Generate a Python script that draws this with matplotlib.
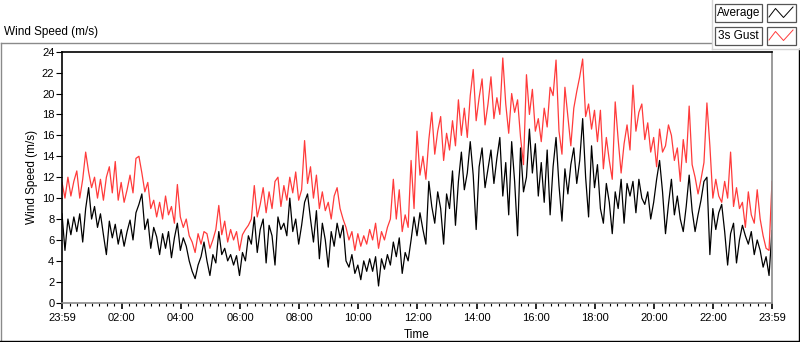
import matplotlib
matplotlib.use("Agg")
import matplotlib.pyplot as plt
import numpy as np
from matplotlib.lines import Line2D
from matplotlib.patches import Rectangle

plt.rcParams['font.family'] = ['Liberation Sans', 'DejaVu Sans']

# minutes after 23:59 of the previous day, one sample every 6 minutes
minutes = np.arange(0, 1441, 6)

# 1 minute average wind speed (m/s)
average = [
    8.5, 5.0, 8.0, 6.5, 8.2, 6.8, 8.5, 5.8, 9.0, 11.0,
    8.0, 9.2, 7.2, 8.5, 6.5, 4.6, 7.8, 6.2, 7.5, 5.6,
    7.0, 5.4, 6.8, 7.9, 6.0, 8.6, 9.4, 10.4, 7.0, 8.0,
    5.2, 7.2, 6.3, 4.6, 6.6, 5.2, 6.8, 4.3, 6.2, 7.6,
    5.0, 6.2, 5.4, 4.0, 3.0, 2.3, 3.6, 4.4, 5.8,
    4.0, 2.6, 4.6, 3.8, 6.8, 4.6, 5.2, 4.0, 4.6, 3.6,
    4.5, 2.6, 4.8, 4.0, 6.4, 5.6, 8.2, 4.8, 7.0, 8.0,
    3.8, 7.4, 6.4, 3.6, 8.2, 7.0, 7.6, 6.4, 10.0, 6.8,
    8.0, 5.6, 7.4, 9.6, 10.4, 8.0, 5.8, 8.8, 4.2, 7.6,
    6.0, 3.4, 6.8, 5.4, 7.6, 6.2, 7.4, 4.0,
    3.4, 4.6, 2.8, 3.6, 2.2, 4.0, 3.0, 4.2, 3.0, 4.4,
    1.6, 4.2, 3.2, 4.6, 3.6, 5.8, 4.4, 6.2, 2.8, 4.8,
    4.0, 6.0, 8.2, 6.4, 8.6, 7.0, 5.6, 11.6, 9.2, 7.6,
    10.6, 9.0, 5.6, 10.4, 9.0, 12.6, 7.4, 11.6, 14.4, 10.8,
    12.4, 15.4, 12.2, 7.0, 13.0, 14.8, 11.0, 12.8,
    14.6, 11.4, 13.8, 15.8, 10.2, 13.4, 8.4, 15.4, 11.6, 6.4,
    14.8, 10.6, 12.0, 16.6, 12.4, 15.2, 10.2, 13.4, 9.6, 14.6,
    8.4, 13.0, 15.8, 11.2, 7.8, 12.8, 10.4, 13.2, 14.8, 11.4,
    13.6, 17.6, 12.0, 8.2, 15.0, 11.0, 13.2, 9.0, 7.6, 11.4,
    9.6, 6.6, 10.6, 9.0, 11.8, 7.6, 11.4, 10.2,
    11.6, 8.6, 11.8, 10.0, 9.4, 10.6, 8.0, 9.6, 11.8, 13.6,
    10.6, 6.6, 9.4, 11.8, 8.4, 10.2, 8.0, 6.8, 9.2, 12.2,
    8.8, 6.8, 8.4, 9.8, 11.6, 12.0, 4.6, 9.0, 7.0, 8.6,
    9.4, 6.8, 3.6, 6.6, 7.6, 3.8, 6.0, 7.4, 6.4, 5.6,
    6.8, 4.6, 6.0, 5.0, 3.4, 4.4, 2.6, 6.9,
]

# 3 second gust (m/s)
gust = [
    11.5, 10.0, 12.0, 10.2, 11.6, 12.6, 10.0, 11.8, 14.4, 12.5,
    11.0, 12.0, 10.0, 11.8, 9.8, 12.0, 13.0, 10.5, 13.5, 9.8,
    11.5, 9.6, 10.8, 12.2, 10.5, 13.8, 14.0, 12.4, 10.6, 11.5,
    9.0, 9.8, 8.2, 9.6, 8.0, 10.2, 8.4, 9.2, 7.6, 11.3,
    8.2, 7.2, 8.0, 6.4, 5.8, 4.8, 6.6, 5.6, 6.8,
    6.6, 5.2, 6.0, 7.0, 9.3, 6.5, 7.8, 5.8, 7.0, 6.0,
    6.8, 5.0, 6.5, 7.0, 7.4, 8.0, 11.2, 8.2, 9.4, 11.0,
    8.6, 10.6, 9.0, 11.6, 12.0, 9.2, 11.2, 9.8, 12.0, 10.5,
    12.5, 9.8, 10.8, 15.5, 11.4, 13.0, 10.0, 12.2, 9.0, 10.6,
    8.8, 9.6, 8.0, 10.2, 11.0, 9.0, 8.0, 7.2,
    6.0, 6.8, 5.0, 6.6, 5.4, 6.4, 5.6, 7.0, 6.0, 7.6,
    5.2, 6.8, 6.0, 7.2, 8.0, 11.8, 8.0, 10.8, 6.8, 8.4,
    7.2, 13.6, 9.0, 16.4, 12.2, 14.0, 11.8, 15.6, 18.2, 14.2,
    16.4, 17.8, 13.6, 16.2, 14.6, 17.4, 15.0, 19.4, 16.0, 18.6,
    15.8, 19.8, 22.3, 17.4, 19.6, 21.4, 17.0, 19.0,
    21.6, 17.6, 19.6, 18.0, 23.4, 19.0, 16.2, 20.0, 18.2, 19.4,
    15.8, 13.2, 21.8, 18.0, 20.4, 16.4, 17.6, 15.4, 18.6, 16.8,
    20.6, 19.8, 23.2, 16.4, 14.2, 20.6, 17.8, 15.0, 18.6, 20.2,
    21.6, 23.3, 17.8, 19.0, 16.6, 18.4, 15.4, 18.4, 12.8, 15.8,
    13.6, 11.8, 19.2, 15.6, 12.4, 15.2, 17.0, 14.6,
    20.8, 16.4, 18.2, 19.0, 15.6, 17.2, 14.4, 15.8, 13.0, 16.6,
    14.4, 15.0, 17.0, 16.0, 13.6, 14.8, 11.6, 15.6, 13.4, 18.8,
    13.2, 12.0, 10.4, 11.8, 13.4, 19.1, 15.0, 10.0, 11.8, 10.2,
    9.6, 11.6, 10.0, 14.4, 9.2, 11.0, 9.0, 9.6, 7.2, 10.6,
    8.4, 7.6, 10.8, 8.0, 6.4, 5.2, 5.0, 11.6,
]

tick_pos = [0] + [121 + 120 * i for i in range(11)] + [1440]
tick_labels = ["23:59", "02:00", "04:00", "06:00", "08:00", "10:00", "12:00",
               "14:00", "16:00", "18:00", "20:00", "22:00", "23:59"]
minor_pos = [m for m in range(16, 1440, 15) if m not in tick_pos]

W, H = 800, 342
fig = plt.figure(figsize=(W / 100, H / 100), dpi=100)


def fx(x):
    return x / W


def fy(y):
    return 1 - y / H


ax = fig.add_axes([fx(62), fy(302.7), fx(772) - fx(62), fy(51.7) - fy(302.7)])

ax.plot(minutes, gust, color="#ff3b3b", lw=0.9)
ax.plot(minutes, average, color="black", lw=0.9)

ax.set_xlim(0, 1440)
ax.set_ylim(0, 24)
ax.set_yticks(range(0, 25, 2))
ax.set_xticks(tick_pos)
ax.set_xticklabels(tick_labels)
ax.set_xticks(minor_pos, minor=True)
ax.tick_params(axis="both", labelsize=8, colors="black", width=0.8)
ax.tick_params(axis="y", length=4, pad=1.5)
ax.tick_params(axis="x", which="major", length=4, width=1.2, pad=3.5)
ax.tick_params(axis="x", which="minor", length=2.5, width=0.8)
ax.set_xlabel("Time", fontsize=8.5, labelpad=4)
ax.set_ylabel("Wind Speed (m/s)", fontsize=8.5, labelpad=3)

for side in ["top", "left"]:
    ax.spines[side].set_color("black")
    ax.spines[side].set_linewidth(1.2)
for side in ["bottom", "right"]:
    ax.spines[side].set_color("#8a8a8a")
    ax.spines[side].set_linewidth(1.2)

# outer panel frame
def fline(xs, ys, color, lw=1.0):
    fig.add_artist(Line2D([fx(v) for v in xs], [fy(v) for v in ys],
                          transform=fig.transFigure, color=color, lw=lw))


fline([0.5, 711], [42.5, 42.5], "#8a8a8a")
fline([0.5, 0.5], [42.5, 341], "#8a8a8a")
fline([0, 800], [340.8, 340.8], "black")
fline([799.3, 799.3], [49, 341], "black")

# legend panel
fline([712, 712], [0, 49], "#d4d4d4")
fline([712, 800], [49, 49], "#d4d4d4")

fig.text(fx(4), fy(32), "Wind Speed (m/s)", fontsize=8.5, va="center", ha="left")

legend_items = [("Average", "black", 4), ("3s Gust", "#ff3b3b", 27)]
for name, col, top in legend_items:
    fig.add_artist(Rectangle((fx(715), fy(top + 17.5)), fx(762) - fx(715), fy(top) - fy(top + 17.5),
                             transform=fig.transFigure, facecolor="white",
                             edgecolor="#555555", lw=0.9))
    fig.text(fx(738.5), fy(top + 9), name, fontsize=8.5, ha="center", va="center")
    fig.add_artist(Rectangle((fx(767), fy(top + 18)), fx(796) - fx(767), fy(top) - fy(top + 18),
                             transform=fig.transFigure, facecolor="white",
                             edgecolor="#555555", lw=0.9))
    fline([769, 775.5, 783.5, 793], [top + 13, top + 4.5, top + 13.5, top + 3], col, lw=0.7)

fig.savefig("out.png", dpi=100, facecolor="white")
